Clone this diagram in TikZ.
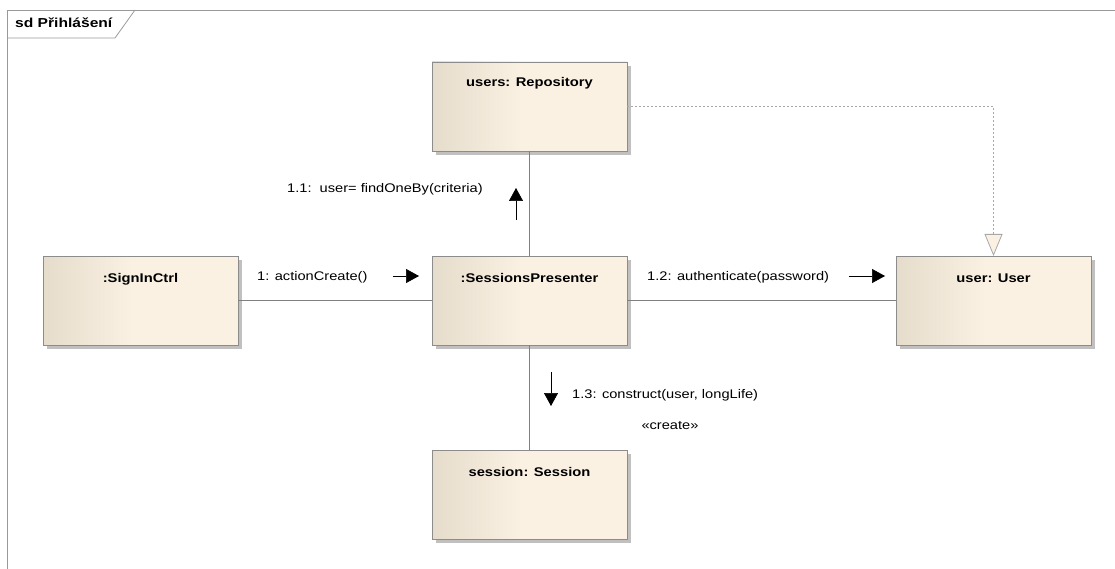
\documentclass[tikz,border=0pt]{standalone}
\usepackage{fontspec}
\setmainfont{Liberation Sans}
\usepackage{graphicx}
\usetikzlibrary{arrows.meta,shadows}

\definecolor{boxleft}{HTML}{E6DCCB}
\definecolor{boxright}{HTML}{FBF1E3}
\definecolor{edge}{HTML}{8C8C8C}
\definecolor{shade}{HTML}{C0C0C0}
\definecolor{link}{HTML}{808080}
\definecolor{dotgray}{HTML}{A8A8A8}
\definecolor{framegray}{HTML}{999999}

% lifeline boxes: tan on the left fading into cream
\pgfdeclarehorizontalshading{lifeline}{100bp}{color(0bp)=(boxleft); color(25bp)=(boxleft); color(48bp)=(boxright); color(100bp)=(boxright)}

% slightly wide text, like the modelling tool's renderer
\newcommand\wtext[1]{\scalebox{1.17}[1]{#1}}

\begin{document}
\begin{tikzpicture}[x=1pt,y=-1pt,
  lifebox/.style={draw=edge, line width=0.8pt, shading=lifeline,
    minimum width=195pt, minimum height=89pt, inner sep=0pt, outer sep=0pt,
    anchor=north west,
    drop shadow={shadow xshift=4pt, shadow yshift=-4pt, fill=shade, opacity=1}},
  boxtitle/.style={font=\bfseries\fontsize{12.6}{15}\selectfont, anchor=base, inner sep=0pt},
  msgtext/.style={font=\fontsize{12.5}{15}\selectfont, anchor=base west, inner sep=0pt},
  conn/.style={draw=link, line width=0.8pt},
  msg/.style={draw=black, line width=0.7pt, -{Triangle[length=13pt,width=14pt]}},
  dep/.style={draw=dotgray, line width=0.8pt, dash pattern=on 2pt off 2pt,
    -{Triangle[open, length=22pt, width=18pt, fill=boxright]}},
  frameline/.style={draw=framegray, line width=0.8pt}
]
\useasboundingbox (0,0) rectangle (1115,569);
\clip (0,0) rectangle (1115,569);

% sequence diagram frame with its name tab
\draw[frameline] (7,600) -- (7,10) -- (1200,10);
\draw[frameline] (7,38) -- (115,38) -- (135,10);
\node[font=\bfseries\fontsize{13}{15}\selectfont, anchor=base west, inner sep=0pt]
  (frameT) at (15,28) {\scalebox{1.2}[1]{sd Přihlášení}};

% lifelines
\node[lifebox] (repo)   at (432,62)  {};
\node[lifebox] (signin) at (43,256)  {};
\node[lifebox] (pres)   at (432,256) {};
\node[lifebox] (user)   at (896,256) {};
\node[lifebox] (sess)   at (432,450) {};

\node[boxtitle] (repoT)   at ([yshift=-25pt]repo.north)   {\wtext{users: Repository}};
\node[boxtitle] (signinT) at ([yshift=-26pt]signin.north) {\wtext{:SignInCtrl}};
\node[boxtitle] (presT)   at ([yshift=-26pt]pres.north)   {\wtext{:SessionsPresenter}};
\node[boxtitle] (userT)   at ([yshift=-26pt]user.north)   {\wtext{user: User}};
\node[boxtitle] (sessT)   at ([yshift=-26pt]sess.north)   {\wtext{session: Session}};

% links between lifelines
\draw[conn] (signin.east) -- (pres.west);
\draw[conn] (pres.east) -- (user.west);
\draw[conn] (repo.south) -- (pres.north);
\draw[conn] (pres.south) -- (sess.north);
\draw[dep] (repo.east) -| (user.north);

% messages
\coordinate (a1s) at (393,276);  \coordinate (a1e) at (419,276);
\draw[msg] (a1s) -- (a1e);
\node[msgtext] (m1) at (257,280) {\wtext{1: actionCreate()}};

\coordinate (a12s) at (849,276); \coordinate (a12e) at (885,276);
\draw[msg] (a12s) -- (a12e);
\node[msgtext] (m12) at (647,280) {\wtext{1.2: authenticate(password)}};

\coordinate (a11s) at (516,220); \coordinate (a11e) at (516,188);
\draw[msg] (a11s) -- (a11e);
\node[msgtext] (m11) at (287,193) {\wtext{1.1:\ \ user= findOneBy(criteria)}};

\coordinate (a13s) at (551,372); \coordinate (a13e) at (551,406);
\draw[msg] (a13s) -- (a13e);
\node[msgtext] (m13) at (572,398) {\wtext{1.3: construct(user, longLife)}};
\node[msgtext, anchor=base] (m13s) at (670,429) {\wtext{«create»}};
\end{tikzpicture}
\end{document}
